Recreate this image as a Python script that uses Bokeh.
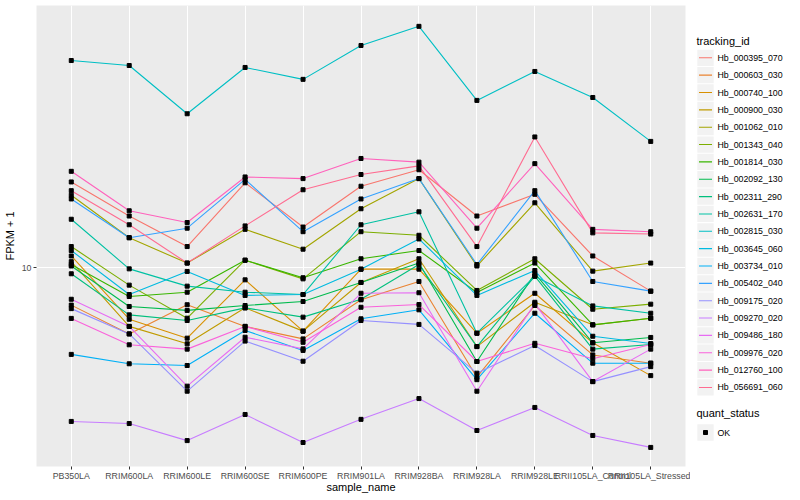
from bokeh.plotting import figure
from bokeh.layouts import row
from bokeh.models import Range1d, FixedTicker, BasicTickFormatter
from bokeh.embed import file_html
from bokeh.resources import INLINE
from bokeh.core.properties import value

# ---------------- data ----------------
samples = ["PB350LA", "RRIM600LA", "RRIM600LE", "RRIM600SE", "RRIM600PE",
           "RRIM901LA", "RRIM928BA", "RRIM928LA", "RRIM928LE",
           "RRII105LA_Control", "RRII105LA_Stressed"]

tracking_ids = ["Hb_000395_070", "Hb_000603_030", "Hb_000740_100", "Hb_000900_030",
                "Hb_001062_010", "Hb_001343_040", "Hb_001814_030", "Hb_002092_130",
                "Hb_002311_290", "Hb_002631_170", "Hb_002815_030", "Hb_003645_060",
                "Hb_003734_010", "Hb_005402_040", "Hb_009175_020", "Hb_009270_020",
                "Hb_009486_180", "Hb_009976_020", "Hb_012760_100", "Hb_056691_060"]

colors = ["#F8766D", "#EA8331", "#D89000", "#C09B00", "#A3A500", "#7CAE00", "#39B600",
          "#00BB4E", "#00BF7D", "#00C1A3", "#00BFC4", "#00BAE0", "#00B0F6", "#35A2FF",
          "#9590FF", "#C77CFF", "#E76BF3", "#FA62DB", "#FF62BC", "#FF6C91"]

# FPKM + 1 per sample (same order as samples)
Hb_000395_070 = [17.7, 14.1, 11.5, 17.6, 13.1, 17.2, 19.2, 14.1, 16.3, 10.8, 8.54]
Hb_000603_030 = [7.78, 6.42, 7.80, 6.75, 6.21, 8.06, 9.11, 4.81, 7.76, 5.58, 5.28]
Hb_000740_100 = [10.8, 7.08, 6.24, 9.21, 6.54, 9.89, 9.89, 6.45, 8.42, 6.05, 4.86]
Hb_000900_030 = [10.4, 6.75, 6.01, 7.64, 6.54, 9.05, 10.6, 5.90, 7.93, 6.82, 7.13]
Hb_001062_010 = [16.2, 12.2, 10.3, 12.9, 11.3, 14.8, 18.1, 10.1, 15.4, 9.76, 10.3]
Hb_001343_040 = [11.5, 8.89, 7.13, 10.5, 9.27, 12.7, 12.4, 8.58, 10.6, 7.57, 7.83]
Hb_001814_030 = [10.2, 8.24, 8.48, 10.5, 9.34, 10.6, 11.2, 8.46, 10.3, 6.82, 7.13]
Hb_002092_130 = [10.1, 7.71, 7.51, 7.76, 7.97, 9.05, 10.3, 5.34, 9.61, 6.05, 6.27]
Hb_002311_290 = [9.59, 7.29, 7.02, 7.64, 7.18, 8.09, 10.2, 5.90, 9.44, 5.80, 5.98]
Hb_002631_170 = [13.8, 9.91, 8.83, 8.48, 8.35, 13.3, 14.5, 6.45, 9.44, 7.74, 7.37]
Hb_002815_030 = [39.8, 38.5, 27.9, 38.0, 35.1, 44.0, 50.0, 30.5, 37.0, 31.1, 23.2]
Hb_003645_060 = [11.2, 8.35, 9.74, 8.30, 8.35, 9.89, 12.1, 8.30, 9.80, 6.32, 6.02]
Hb_003734_010 = [5.60, 5.26, 5.20, 6.57, 5.75, 7.10, 7.54, 4.73, 7.37, 5.28, 5.28]
Hb_005402_040 = [15.8, 12.2, 13.0, 18.0, 12.7, 15.8, 18.1, 10.2, 16.7, 9.11, 8.54]
Hb_009175_020 = [7.60, 6.42, 4.38, 6.12, 5.35, 7.02, 6.84, 4.94, 5.94, 4.67, 5.16]
Hb_009270_020 = [3.58, 3.53, 3.15, 3.75, 3.11, 3.63, 4.17, 3.37, 3.93, 3.26, 3.01]
Hb_009486_180 = [8.09, 6.75, 4.53, 6.28, 5.81, 8.42, 8.45, 4.38, 7.86, 4.67, 5.80]
Hb_009976_020 = [7.12, 5.97, 5.80, 6.75, 6.07, 7.67, 7.81, 5.34, 6.03, 5.44, 5.98]
Hb_012760_100 = [19.0, 14.6, 13.5, 18.3, 18.1, 20.7, 20.2, 13.0, 20.0, 12.9, 12.7]
Hb_056691_060 = [16.7, 13.3, 10.3, 13.2, 16.8, 18.6, 19.7, 11.5, 23.9, 12.6, 12.5]

series = [Hb_000395_070, Hb_000603_030, Hb_000740_100, Hb_000900_030, Hb_001062_010,
          Hb_001343_040, Hb_001814_030, Hb_002092_130, Hb_002311_290, Hb_002631_170,
          Hb_002815_030, Hb_003645_060, Hb_003734_010, Hb_005402_040, Hb_009175_020,
          Hb_009270_020, Hb_009486_180, Hb_009976_020, Hb_012760_100, Hb_056691_060]

y_ticks = [10]
quant_status = ["OK"]

FONT = "Liberation Sans"

# ---------------- main panel ----------------
xs = list(range(1, len(samples) + 1))

p = figure(width=690, height=500,
           x_range=Range1d(0.4, len(samples) + 0.6),
           y_range=Range1d(2.650, 57.46), y_axis_type="log",
           output_backend="svg", toolbar_location=None,
           min_border_left=36, min_border_right=5,
           min_border_top=5, min_border_bottom=34)
p.background_fill_color = "#EBEBEB"
p.border_fill_color = "white"
p.outline_line_color = None

p.xaxis.ticker = FixedTicker(ticks=xs)
p.xaxis.major_label_overrides = {x: s for x, s in zip(xs, samples)}
p.yaxis.ticker = FixedTicker(ticks=y_ticks)
p.yaxis.formatter = BasicTickFormatter()

for ax in (p.xaxis, p.yaxis):
    ax.axis_line_color = None
    ax.major_tick_line_color = "#333333"
    ax.major_tick_out = 3
    ax.major_tick_in = 0
    ax.minor_tick_line_color = None
    ax.major_label_text_font = FONT
    ax.major_label_text_font_size = "8.8px"
    ax.major_label_text_color = "#4D4D4D"
    ax.major_label_standoff = 2
    ax.axis_label_text_font = FONT
    ax.axis_label_text_font_size = "11px"
    ax.axis_label_text_font_style = "normal"
    ax.axis_label_text_color = "black"

p.xaxis.axis_label = "sample_name"
p.yaxis.axis_label = "FPKM + 1"
p.xaxis.major_label_standoff = 1
p.xaxis.axis_label_standoff = -3
p.yaxis.axis_label_standoff = 3

p.xgrid.ticker = FixedTicker(ticks=xs)
p.ygrid.ticker = FixedTicker(ticks=y_ticks)
for g in (p.xgrid, p.ygrid):
    g.grid_line_color = "white"
    g.grid_line_width = 1.1
    g.minor_grid_line_color = None

for vals, col in zip(series, colors):
    p.line(xs, vals, line_color=col, line_width=1.1)

px = [x for vals in series for x in xs]
py = [v for vals in series for v in vals]
p.scatter(px, py, marker="square", size=4, color="black")

# ---------------- legend panel (page-pixel coordinates) ----------------
leg = figure(width=110, height=500,
             x_range=Range1d(690, 800), y_range=Range1d(466, 5),
             output_backend="svg", toolbar_location=None,
             x_axis_type=None, y_axis_type=None,
             min_border_left=0, min_border_right=0,
             min_border_top=5, min_border_bottom=34)
leg.outline_line_color = None
leg.background_fill_color = "white"
leg.border_fill_color = "white"
leg.xgrid.visible = False
leg.ygrid.visible = False

step = 17.35
ys = [57.3 + step * i for i in range(len(tracking_ids))]
leg.text(x=[696], y=[40.5], text=["tracking_id"], text_font=value(FONT),
         text_font_size="11px", text_baseline="middle", text_color="black")
leg.rect(x=705, y=ys, width=16.3, height=16.3, fill_color="#F2F2F2", line_color=None)
leg.segment(x0=698.5, x1=711.5, y0=ys, y1=ys, line_color=colors, line_width=1.1)
leg.text(x=717, y=ys, text=tracking_ids, text_font=value(FONT),
         text_font_size="8.8px", text_baseline="middle", text_color="black")

qy = [432]
leg.text(x=[696], y=[412.7], text=["quant_status"], text_font=value(FONT),
         text_font_size="11px", text_baseline="middle", text_color="black")
leg.rect(x=705, y=qy, width=16.3, height=16.3, fill_color="#F2F2F2", line_color=None)
leg.scatter(x=[705], y=qy, marker="square", size=4, color="black")
leg.text(x=717, y=qy, text=quant_status, text_font=value(FONT),
         text_font_size="8.8px", text_baseline="middle", text_color="black")

layout = row(p, leg)
open("out.html", "w").write(file_html(layout, INLINE))
